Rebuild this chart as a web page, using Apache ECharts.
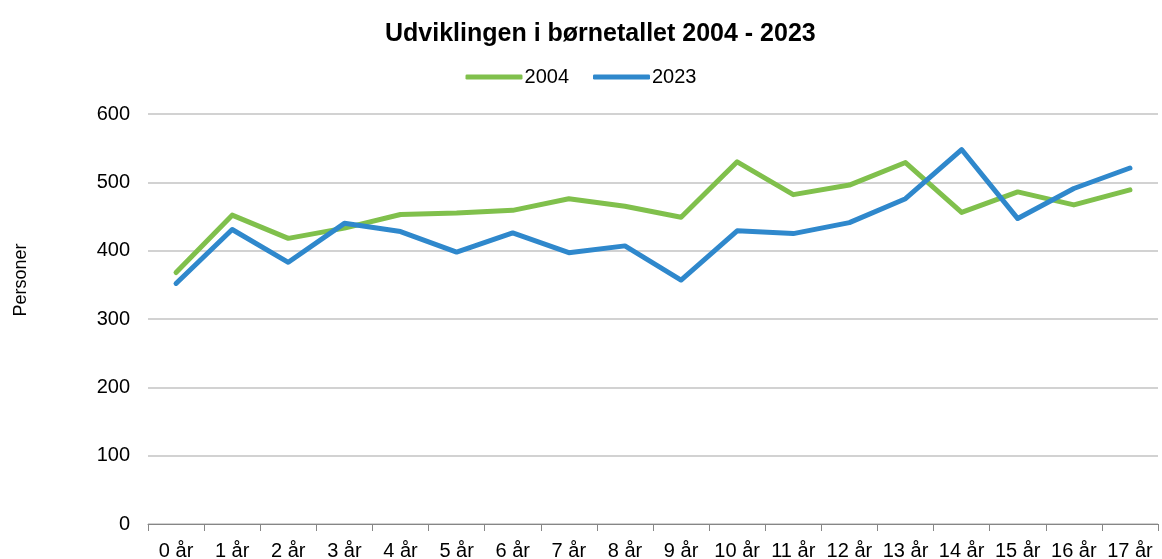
<!DOCTYPE html>
<html>
<head>
<meta charset="utf-8">
<script src="https://cdn.jsdelivr.net/npm/echarts@6/dist/echarts.min.js"></script>
<style>
  html, body { margin: 0; padding: 0; background: #fff; }
  #chart { width: 1162px; height: 559px; }
</style>
</head>
<body>
<div id="chart"></div>
<script>
// Kategorier og data
var ages = ['0 år', '1 år', '2 år', '3 år', '4 år', '5 år', '6 år', '7 år', '8 år',
    '9 år', '10 år', '11 år', '12 år', '13 år', '14 år', '15 år', '16 år', '17 år'];
var data2004 = [368, 452, 418, 433, 453, 455, 459, 476, 465, 449, 530, 482, 496, 529, 456, 486, 467, 489];
var data2023 = [352, 431, 383, 440, 428, 398, 426, 397, 407, 357, 429, 425, 441, 476, 548, 447, 491, 521];
var yTicks = [0, 100, 200, 300, 400, 500, 600];

var FONT = '"Liberation Sans", Arial, sans-serif';

var chart = echarts.init(document.getElementById('chart'));
chart.setOption({
    animation: false,
    title: {
        text: 'Udviklingen i børnetallet 2004 - 2023',
        left: 380,
        top: 17,
        textStyle: { fontFamily: FONT, fontSize: 25, fontWeight: 'bold', color: '#000' }
    },
    legend: {
        top: 62,
        left: 'center',
        icon: 'roundRect',
        itemWidth: 57,
        itemHeight: 5,
        itemGap: 24,
        textStyle: { fontFamily: FONT, fontSize: 20, color: '#000', padding: [0, 0, 0, -3] },
        data: ['2004', '2023']
    },
    grid: { left: 148, right: 4, top: 114, bottom: 35, containLabel: false, outerBoundsMode: 'none' },
    xAxis: {
        type: 'category',
        data: ages,
        boundaryGap: true,
        axisLine: { lineStyle: { color: '#868686', width: 1 } },
        axisTick: { show: true, length: 7, lineStyle: { color: '#868686' } },
        axisLabel: { fontFamily: FONT, fontSize: 20, color: '#000', margin: 17, interval: 0 }
    },
    yAxis: {
        type: 'value',
        min: yTicks[0],
        max: yTicks[yTicks.length - 1],
        interval: 100,
        name: 'Personer',
        nameLocation: 'middle',
        nameGap: 118,
        nameTextStyle: { fontFamily: FONT, fontSize: 18, color: '#000', padding: [0, 0, 0, 78] },
        axisLine: { show: false },
        axisTick: { show: false },
        axisLabel: { fontFamily: FONT, fontSize: 20, color: '#000', margin: 18 },
        splitLine: { lineStyle: { color: '#c3c3c3', width: 1.5 } }
    },
    series: [
        {
            name: '2004',
            type: 'line',
            data: data2004,
            symbol: 'none',
            color: '#80C04C',
            lineStyle: { width: 5, color: '#80C04C', cap: 'round', join: 'round' }
        },
        {
            name: '2023',
            type: 'line',
            data: data2023,
            symbol: 'none',
            color: '#2F88CC',
            lineStyle: { width: 5, color: '#2F88CC', cap: 'round', join: 'round' }
        }
    ]
});
</script>
</body>
</html>
